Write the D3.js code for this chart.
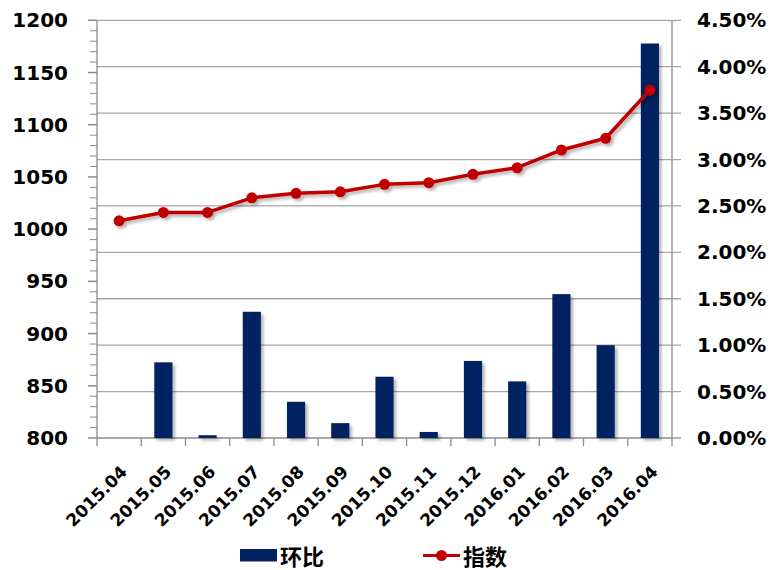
<!DOCTYPE html>
<html><head><meta charset="utf-8">
<script src="https://cdn.jsdelivr.net/npm/d3@7"></script>
<style>
body{margin:0;background:#fff;}
svg{display:block;}
.lab{font-family:"DejaVu Sans",sans-serif;font-weight:bold;fill:#000;}
.cjk{font-family:"Noto Sans CJK SC",sans-serif;font-weight:bold;fill:#000;}
</style></head>
<body>
<svg id="c" width="784" height="570"></svg>
<script>
const categories = ["2015.04","2015.05","2015.06","2015.07","2015.08","2015.09","2015.10","2015.11","2015.12","2016.01","2016.02","2016.03","2016.04"];
const huanbi = [0, 0.815, 0.03, 1.36, 0.39, 0.16, 0.66, 0.065, 0.83, 0.61, 1.55, 1.00, 4.25]; // percent
const zhishu = [1008, 1016, 1016, 1030, 1034.3, 1035.8, 1042.9, 1044.5, 1052.5, 1058.8, 1075.8, 1087, 1133.2];
const leftTicks = [800, 850, 900, 950, 1000, 1050, 1100, 1150, 1200];
const rightTicks = [0, 0.5, 1, 1.5, 2, 2.5, 3, 3.5, 4, 4.5];
const seriesNames = ["环比", "指数"];

const L = 97, R = 672, T = 20.3, B = 438;
const svg = d3.select("#c");
const defs = svg.append("defs");
const f = defs.append("filter").attr("id","sh").attr("x","-20%").attr("y","-20%").attr("width","150%").attr("height","150%");
f.append("feDropShadow").attr("dx",2.5).attr("dy",2.5).attr("stdDeviation",1.8).attr("flood-color","#000").attr("flood-opacity",0.3);

const x = d3.scaleBand().domain(categories).range([L, R]).paddingInner(0.59).paddingOuter(0.295);
const yL = d3.scaleLinear().domain([800, 1200]).range([B, T]);
const yR = d3.scaleLinear().domain([0, 4.5]).range([B, T]);

// gridlines (right axis ticks)
svg.append("g").selectAll("line").data(rightTicks.filter(d=>d>0)).join("line")
  .attr("x1", L).attr("x2", R + 9).attr("y1", d=>yR(d)).attr("y2", d=>yR(d))
  .attr("stroke", "#a6a6a6").attr("stroke-width", 1.3);

// left axis minor ticks
const minor = d3.range(800, 1201, 10);
svg.append("g").selectAll("line").data(minor).join("line")
  .attr("x1", d=> d%50===0 ? L-9 : L-7).attr("x2", L)
  .attr("y1", d=>yL(d)).attr("y2", d=>yL(d))
  .attr("stroke", "#8c8c8c").attr("stroke-width", d=> d%50===0 ? 1.5 : 1);

// axis lines
svg.append("line").attr("x1",L).attr("x2",L).attr("y1",T).attr("y2",B).attr("stroke","#8c8c8c").attr("stroke-width",1.3);
svg.append("line").attr("x1",R).attr("x2",R).attr("y1",T).attr("y2",B).attr("stroke","#8c8c8c").attr("stroke-width",1.3);
svg.append("line").attr("x1",R).attr("x2",R+9).attr("y1",B).attr("y2",B).attr("stroke","#8c8c8c").attr("stroke-width",1.3);
svg.append("line").attr("x1",L).attr("x2",R).attr("y1",B).attr("y2",B).attr("stroke","#8c8c8c").attr("stroke-width",1.3);

// bottom ticks at band boundaries
const step = x.step();
svg.append("g").selectAll("line").data(d3.range(categories.length+1)).join("line")
  .attr("x1", i=>L+i*step).attr("x2", i=>L+i*step).attr("y1", B).attr("y2", B+8)
  .attr("stroke","#8c8c8c").attr("stroke-width",1.3);

// left labels
svg.append("g").selectAll("text").data(leftTicks).join("text")
  .attr("class","lab").attr("x", 68).attr("y", d=>yL(d)+7).attr("text-anchor","end")
  .attr("font-size", 20).text(d=>d);

// right labels
svg.append("g").selectAll("text").data(rightTicks).join("text")
  .attr("class","lab").attr("x", 697).attr("y", d=>yR(d)+7).attr("text-anchor","start")
  .attr("font-size", 20).text(d=>d3.format(".2f")(d)+"%");

// x labels
svg.append("g").selectAll("text").data(categories).join("text")
  .attr("class","lab").attr("font-size",17).attr("text-anchor","end")
  .attr("transform", d=>`translate(${x(d)+x.bandwidth()/2+9},${B+35}) rotate(-45)`)
  .text(d=>d);

// bars
svg.append("g").attr("filter","url(#sh)").selectAll("rect").data(huanbi.map((v,i)=>({c:categories[i],v}))).join("rect")
  .attr("x", d=>x(d.c)).attr("width", x.bandwidth())
  .attr("y", d=>yR(d.v)).attr("height", d=>B - yR(d.v))
  .attr("fill", "#002060");

// line
const pts = zhishu.map((v,i)=>({c:categories[i],v}));
const lg = svg.append("g").attr("filter","url(#sh)");
lg.append("path").datum(pts)
  .attr("d", d3.line().x(d=>x(d.c)+x.bandwidth()/2).y(d=>yL(d.v)))
  .attr("fill","none").attr("stroke","#c00000").attr("stroke-width",3.5).attr("stroke-linejoin","round");
lg.selectAll("circle").data(pts).join("circle")
  .attr("cx", d=>x(d.c)+x.bandwidth()/2).attr("cy", d=>yL(d.v)).attr("r",5.5).attr("fill","#c00000");

// legend
const leg = svg.append("g");
leg.append("rect").attr("x",240).attr("y",549).attr("width",37).attr("height",12.5).attr("fill","#002060");
leg.append("text").attr("class","cjk").attr("x",280).attr("y",565).attr("font-size",22).text(seriesNames[0]);
leg.append("line").attr("x1",423).attr("x2",460).attr("y1",555.5).attr("y2",555.5).attr("stroke","#c00000").attr("stroke-width",3);
leg.append("circle").attr("cx",441.5).attr("cy",555.5).attr("r",5.5).attr("fill","#c00000");
leg.append("text").attr("class","cjk").attr("x",463).attr("y",565).attr("font-size",22).text(seriesNames[1]);
</script>
</body></html>
